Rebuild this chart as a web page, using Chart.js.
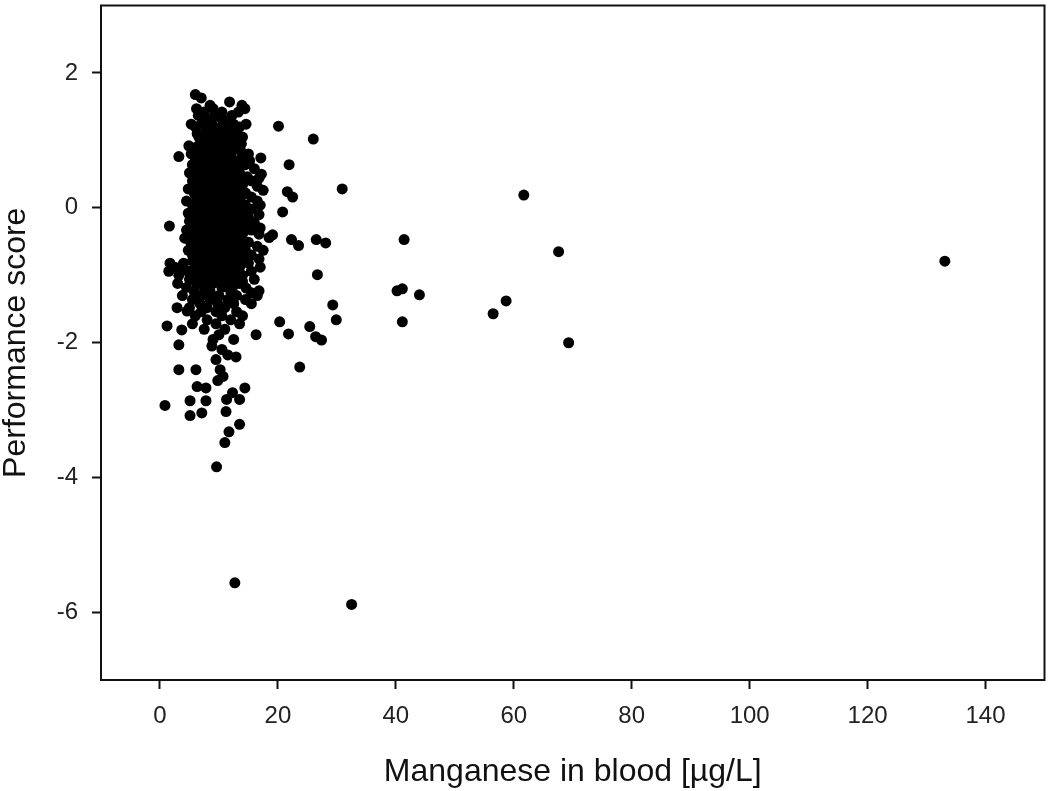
<!DOCTYPE html>
<html>
<head>
<meta charset="utf-8">
<script src="https://cdn.jsdelivr.net/npm/chart.js@4/dist/chart.umd.min.js"></script>
<style>
  html, body { margin: 0; padding: 0; background: #fff; }
  #wrap { width: 1050px; height: 791px; position: relative; }
</style>
</head>
<body>
<div id="wrap"><canvas id="c"></canvas></div>
<script>
// ---- data ----
const xTitle = 'Manganese in blood [µg/L]';
const yTitle = 'Performance score';
const xTickValues = [0, 20, 40, 60, 80, 100, 120, 140];
const yTickValues = [-6, -4, -2, 0, 2];

// dense cluster, outer points: [manganese, score]
const clusterPoints = [
  [6.0,1.68],[7.0,1.63],[11.8,1.57],[8.5,1.52],[13.9,1.52],
  [6.2,1.47],[9.0,1.47],[14.4,1.47],[7.5,1.42],[10.5,1.42],[13.3,1.42],
  [6.5,1.37],[9.6,1.37],[12.2,1.37],[7.8,1.30],[11.0,1.30],
  [5.3,1.24],[7.0,1.24],[8.8,1.24],[12.5,1.24],[14.6,1.24],
  [8.0,1.17],[9.7,1.17],[11.2,1.17],[6.3,1.10],[7.5,1.10],[10.0,1.10],[12.8,1.10],
  [6.6,1.05],[8.0,1.05],[9.5,1.05],[10.8,1.05],[12.0,1.05],[14.0,1.05],
  [7.2,0.98],[9.0,0.98],[11.5,0.98],[13.2,0.98],
  [4.9,0.92],[6.5,0.92],[8.5,0.92],[10.2,0.92],[12.5,0.92],
  [7.5,0.86],[9.5,0.86],[11.0,0.86],[13.5,0.86],
  [5.3,0.80],[6.8,0.80],[8.3,0.80],[10.5,0.80],[12.0,0.80],[15.0,0.80],
  [3.2,0.76],[9.3,0.76],[11.8,0.76],[17.1,0.74],
  [6.0,0.70],[7.7,0.70],[10.0,0.70],[13.0,0.70],[15.2,0.70],
  [5.5,0.64],[8.5,0.64],[11.0,0.64],[12.5,0.64],[14.5,0.64],
  [6.8,0.58],[9.0,0.58],[10.5,0.58],[12.2,0.58],[16.0,0.58],
  [5.0,0.52],[7.5,0.52],[9.5,0.52],[11.2,0.52],[13.5,0.52],[17.2,0.50],
  [6.5,0.46],[8.5,0.46],[10.3,0.46],[12.0,0.46],[14.8,0.46],[16.8,0.44],
  [5.5,0.40],[7.3,0.40],[9.2,0.40],[11.0,0.40],[13.0,0.40],[15.5,0.40],
  [6.3,0.34],[8.3,0.34],[10.0,0.34],[12.0,0.34],[14.0,0.34],[16.5,0.32],
  [4.8,0.28],[7.0,0.28],[9.0,0.28],[11.0,0.28],[13.0,0.28],[17.5,0.26],
  [5.8,0.22],[8.0,0.22],[10.0,0.22],[12.0,0.22],[14.5,0.22],
  [6.5,0.16],[8.8,0.16],[10.5,0.16],[12.5,0.16],[15.5,0.16],
  [4.5,0.10],[7.5,0.10],[9.5,0.10],[11.5,0.10],[13.5,0.10],[16.5,0.10],
  [5.5,0.04],[8.0,0.04],[10.0,0.04],[12.0,0.04],[14.5,0.04],[17.0,0.04],
  [6.5,-0.02],[9.0,-0.02],[11.0,-0.02],[13.0,-0.02],[15.5,-0.02],
  [4.8,-0.08],[7.5,-0.08],[9.8,-0.08],[12.0,-0.08],[14.0,-0.08],[16.8,-0.10],
  [6.0,-0.14],[8.5,-0.14],[10.5,-0.14],[12.5,-0.14],[15.0,-0.14],
  [5.0,-0.20],[7.0,-0.20],[9.0,-0.20],[11.2,-0.20],[13.5,-0.20],[16.0,-0.22],
  [1.6,-0.27],[6.2,-0.27],[8.0,-0.27],[10.0,-0.27],[12.0,-0.27],[14.5,-0.27],[17.0,-0.30],
  [4.5,-0.33],[7.2,-0.33],[9.3,-0.33],[11.0,-0.33],[13.0,-0.33],[15.5,-0.33],
  [5.5,-0.39],[8.5,-0.39],[10.3,-0.39],[12.5,-0.39],[14.0,-0.39],[16.8,-0.39],
  [4.2,-0.45],[6.5,-0.45],[9.0,-0.45],[11.5,-0.45],[13.5,-0.45],[18.5,-0.44],
  [5.2,-0.51],[7.5,-0.51],[10.0,-0.51],[12.0,-0.51],[15.0,-0.51],
  [6.0,-0.57],[8.5,-0.57],[11.0,-0.57],[13.0,-0.57],[16.5,-0.57],
  [4.8,-0.63],[7.0,-0.63],[9.5,-0.63],[12.0,-0.63],[14.5,-0.63],[17.5,-0.63],
  [5.5,-0.70],[8.0,-0.70],[10.5,-0.70],[13.0,-0.70],[15.5,-0.70],
  [6.5,-0.76],[9.0,-0.76],[11.5,-0.76],[14.0,-0.76],[16.8,-0.76],
  [1.7,-0.82],[4.0,-0.82],[7.5,-0.82],[10.0,-0.82],[12.5,-0.82],[15.0,-0.82],
  [2.5,-0.88],[3.5,-0.88],[6.0,-0.88],[8.5,-0.88],[11.0,-0.88],[13.5,-0.88],[17.0,-0.88],
  [1.5,-0.94],[4.8,-0.94],[7.2,-0.94],[9.5,-0.94],[12.0,-0.94],[15.5,-0.94],
  [3.2,-1.00],[6.0,-1.00],[8.8,-1.00],[11.0,-1.00],[14.0,-1.00],
  [5.0,-1.06],[7.5,-1.06],[10.0,-1.06],[12.5,-1.06],[16.0,-1.06],
  [3.0,-1.12],[6.2,-1.12],[9.0,-1.12],[11.5,-1.12],[13.5,-1.12],
  [4.5,-1.18],[7.5,-1.18],[10.5,-1.18],[14.6,-1.19],[16.8,-1.23],
  [5.8,-1.24],[8.5,-1.24],[12.0,-1.24],[15.5,-1.26],
  [3.8,-1.30],[7.0,-1.30],[10.0,-1.30],[13.0,-1.30],[16.5,-1.30],
  [5.5,-1.36],[8.5,-1.36],[11.5,-1.36],[14.5,-1.36],
  [6.8,-1.42],[9.8,-1.42],[12.5,-1.42],[15.5,-1.42],
  [2.9,-1.48],[5.0,-1.48],[8.0,-1.48],[11.0,-1.48],
  [4.6,-1.53],[7.0,-1.54],[9.5,-1.54],[13.0,-1.54],
  [6.0,-1.60],[10.5,-1.60],[14.0,-1.60],[8.0,-1.66],[12.0,-1.66],
  [5.5,-1.72],[9.5,-1.72],[13.5,-1.72],[1.2,-1.75],
  [3.7,-1.81],[7.5,-1.80],[11.0,-1.80],[10.0,-1.88],[16.3,-1.88],
  [9.0,-1.95],[12.5,-1.95]
];

// dense cluster, core points: [manganese, score]
const corePoints = [
  [8.8,1.33],[10.3,1.33],[6.0,1.20],[10.4,1.20],[13.5,1.20],[8.8,1.13],[11.8,1.13],
  [8.2,1.01],[10.2,1.01],[12.5,1.01],[7.8,0.95],[11.0,0.95],[13.8,0.95],
  [6.0,0.89],[9.0,0.89],[12.0,0.89],[8.0,0.83],[9.8,0.83],[11.5,0.83],[13.8,0.83],
  [8.5,0.73],[11.2,0.73],[14.0,0.73],[7.0,0.67],[9.5,0.67],[12.0,0.67],
  [8.0,0.61],[11.5,0.61],[13.5,0.61],[6.0,0.55],[8.3,0.55],[10.3,0.55],
  [7.5,0.49],[9.5,0.49],[11.0,0.49],[13.0,0.49],
  [6.5,0.43],[8.2,0.43],[10.0,0.43],[12.2,0.43],[14.0,0.43],
  [7.5,0.37],[9.2,0.37],[11.0,0.37],[13.0,0.37],
  [6.0,0.31],[8.0,0.31],[10.0,0.31],[12.0,0.31],
  [7.0,0.25],[9.0,0.25],[11.0,0.25],[13.5,0.25],
  [6.0,0.19],[8.0,0.19],[10.0,0.19],[11.5,0.19],[14.0,0.19],
  [7.0,0.13],[9.0,0.13],[11.0,0.13],[13.0,0.13],
  [6.0,0.07],[8.5,0.07],[10.5,0.07],[12.5,0.07],
  [7.0,0.01],[9.5,0.01],[11.5,0.01],[13.5,0.01],
  [6.0,-0.05],[8.5,-0.05],[10.5,-0.05],[12.5,-0.05],
  [7.0,-0.11],[9.5,-0.11],[11.5,-0.11],[13.5,-0.11],
  [6.0,-0.17],[8.0,-0.17],[10.0,-0.17],[12.0,-0.17],
  [7.5,-0.23],[9.5,-0.23],[11.5,-0.23],[13.0,-0.23],
  [5.5,-0.30],[8.8,-0.30],[11.0,-0.30],[13.5,-0.30],
  [6.5,-0.36],[8.0,-0.36],[10.5,-0.36],[12.0,-0.36],
  [7.0,-0.42],[9.5,-0.42],[11.0,-0.42],[13.0,-0.42],
  [5.8,-0.48],[8.0,-0.48],[10.5,-0.48],[12.5,-0.48],
  [6.5,-0.54],[9.0,-0.54],[11.0,-0.54],[13.5,-0.54],
  [5.5,-0.60],[7.5,-0.60],[10.0,-0.60],[12.0,-0.60],[14.0,-0.60],
  [6.0,-0.66],[8.5,-0.66],[10.8,-0.66],[13.0,-0.66],
  [7.0,-0.73],[9.5,-0.73],[12.0,-0.73],[14.0,-0.73],
  [5.5,-0.79],[8.0,-0.79],[10.5,-0.79],[13.0,-0.79],
  [9.2,-0.85],[12.0,-0.85],[8.0,-0.91],[10.5,-0.91],[13.0,-0.91],
  [7.5,-0.97],[10.0,-0.97],[12.5,-0.97],[9.5,-1.03],[12.0,-1.03],
  [8.5,-1.09],[11.0,-1.09],[14.0,-1.09],[8.0,-1.15],[12.5,-1.15]
];

// scattered points: [manganese, score]
const scatteredPoints = [
  [20.1,1.21],[26.0,1.02],[21.9,0.64],[30.9,0.28],[21.6,0.24],[22.5,0.16],
  [61.7,0.19],[20.8,-0.06],[19.1,-0.40],[22.3,-0.47],[23.5,-0.56],
  [26.5,-0.47],[28.1,-0.52],[41.4,-0.47],[67.6,-0.65],[133.1,-0.79],
  [26.7,-0.99],[41.1,-1.20],[40.2,-1.23],[44.0,-1.29],[58.7,-1.38],
  [29.3,-1.44],[56.5,-1.57],[29.9,-1.66],[20.3,-1.69],[41.1,-1.69],
  [25.4,-1.76],[21.8,-1.87],[26.4,-1.91],[27.4,-1.96],[69.3,-2.00],
  [3.2,-2.03],[8.8,-2.05],[10.5,-2.10],[11.5,-2.18],[12.9,-2.21],[9.5,-2.25],
  [23.7,-2.36],[3.2,-2.40],[6.1,-2.40],[10.2,-2.40],[10.7,-2.50],[9.8,-2.56],
  [6.3,-2.65],[14.4,-2.67],[7.8,-2.67],[12.3,-2.74],[11.3,-2.84],[13.5,-2.84],
  [5.1,-2.86],[7.8,-2.86],[0.85,-2.93],[11.2,-3.02],[7.1,-3.04],[5.1,-3.08],
  [13.5,-3.21],[11.7,-3.32],[11.0,-3.48],[9.6,-3.84],[12.7,-5.56],[32.5,-5.88]
];

const allPoints = clusterPoints.concat(corePoints, scatteredPoints).map(p => ({x: p[0], y: p[1]}));

const frame = {
  id: 'frame',
  afterDatasetsDraw(chart) {
    const a = chart.chartArea, ctx = chart.ctx;
    ctx.save();
    ctx.strokeStyle = '#111';
    ctx.lineWidth = 2;
    ctx.strokeRect(a.left, a.top, a.right - a.left, a.bottom - a.top);
    ctx.restore();
  }
};

const tickFont = { family: '"Liberation Sans", Arial, sans-serif', size: 24 };
const titleFont = { family: '"Liberation Sans", Arial, sans-serif', size: 32, lineHeight: 1 };

new Chart(document.getElementById('c'), {
  type: 'scatter',
  data: {
    datasets: [{
      data: allPoints,
      backgroundColor: '#000',
      borderColor: '#000',
      borderWidth: 0,
      pointRadius: 5.5,
      pointHoverRadius: 5.5
    }]
  },
  options: {
    responsive: true,
    maintainAspectRatio: false,
    animation: false,
    events: [],
    layout: { padding: { top: 2, right: 3, left: 0, bottom: 0 } },
    plugins: { legend: { display: false }, tooltip: { enabled: false } },
    scales: {
      x: {
        type: 'linear',
        min: -10, max: 150,
        afterBuildTicks: s => { s.ticks = xTickValues.map(v => ({ value: v })); },
        afterFit: s => { s.height = 111; s.paddingLeft = 0; s.paddingRight = 0; },
        grid: { drawOnChartArea: false, drawTicks: true, tickLength: 9, tickWidth: 2, tickColor: '#111', color: '#111' },
        border: { display: true, color: '#111', width: 2 },
        ticks: { font: tickFont, color: '#222', padding: 13, maxRotation: 0, autoSkip: false },
        title: { display: true, text: xTitle, font: titleFont, color: '#111', padding: { top: 0, bottom: 3 } }
      },
      y: {
        type: 'linear',
        min: -7, max: 3,
        afterBuildTicks: s => { s.ticks = yTickValues.map(v => ({ value: v })); },
        afterFit: s => { s.width = 101; s.paddingTop = 0; s.paddingBottom = 0; },
        grid: { drawOnChartArea: false, drawTicks: true, tickLength: 9, tickWidth: 2, tickColor: '#111', color: '#111' },
        border: { display: true, color: '#111', width: 2 },
        ticks: { font: tickFont, color: '#222', padding: 14, autoSkip: false },
        title: { display: true, text: yTitle, font: titleFont, color: '#111', padding: { top: 0, bottom: 0 } }
      }
    }
  },
  plugins: [frame]
});
</script>
</body>
</html>
